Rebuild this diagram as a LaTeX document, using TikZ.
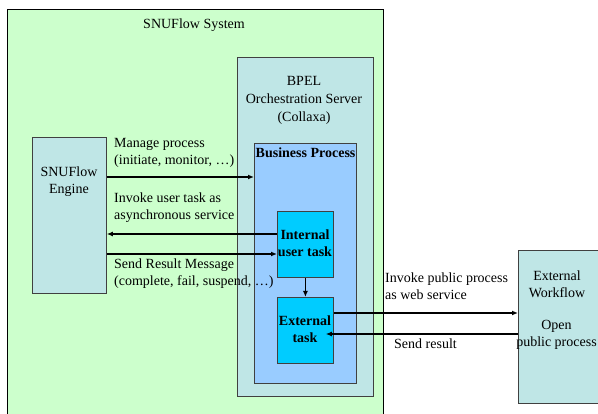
\documentclass[tikz,border=0pt]{standalone}
\usepackage{fontspec}
\setmainfont{Liberation Serif}
\usetikzlibrary{arrows.meta}
\definecolor{sysgreen}{HTML}{CCFFCC}
\definecolor{paleteal}{HTML}{BFE6E6}
\definecolor{bpblue}{HTML}{99CCFF}
\definecolor{taskcyan}{HTML}{00CCFF}
\begin{document}
\begin{tikzpicture}[x=1pt,y=-1pt,
  box/.style={draw=black!75, line width=0.8pt, inner sep=0pt, anchor=north west},
  txt/.style={font=\fontsize{14}{17}\selectfont, inner sep=0pt, align=center},
  lbl/.style={font=\fontsize{14}{17}\selectfont, inner sep=0pt, align=left, anchor=west},
  btxt/.style={font=\bfseries\fontsize{14}{17}\selectfont, inner sep=0pt, align=center},
  arr/.style={line width=1.3pt, -{Latex[length=6pt,width=5pt]}}]
\clip (0,0) rectangle (598,414);
\fill[white] (0,0) rectangle (598,414);
% boxes
\node[box, fill=sysgreen, draw=black, minimum width=376pt, minimum height=430pt] (sys) at (7,9.5) {};
\node[box, fill=paleteal, minimum width=136pt, minimum height=339pt] (bpel) at (237,57) {};
\node[box, fill=bpblue, minimum width=102pt, minimum height=240pt] (bp) at (254,143) {};
\node[box, fill=paleteal, minimum width=74pt, minimum height=156pt] (engine) at (32,137) {};
\node[box, fill=taskcyan, minimum width=56pt, minimum height=66pt] (int) at (277,211) {};
\node[box, fill=taskcyan, minimum width=56pt, minimum height=66pt] (ext) at (277,297) {};
\node[box, fill=paleteal, minimum width=110pt, minimum height=153pt] (wf) at (518,250) {};
% texts
\node[txt] (systitle) at (194,25) {SNUFlow System};
\node[txt, font=\fontsize{14}{18}\selectfont] (bpeltxt) at (304,100) {BPEL\\Orchestration Server\\(Collaxa)};
\node[btxt, anchor=west] (bptitle) at (255.5,153) {Business Process};
\node[txt] (enginetxt) at (69,181.5) {SNUFlow\\Engine};
\node[btxt] (inttxt) at (305,243.5) {Internal\\user task};
\node[btxt] (exttxt) at (305,329) {External\\task};
\node[txt] (wftxt) at (557,284) {External\\Workflow};
\node[txt] (opentxt) at (556.5,335) {Open\\public process};
% labels
\node[lbl] (l1) at (114,153) {Manage process\\(initiate, monitor, …)};
\node[lbl] (l2) at (114,207.5) {Invoke user task as\\asynchronous service};
\node[lbl] (l3) at (114,273.5) {Send Result Message\\(complete, fail, suspend, …)};
\node[lbl] (l4) at (385,286) {Invoke public process\\as web service};
\node[lbl] (l5) at (394,344) {Send result};
% connector levels
\coordinate (m1) at (0,177);
\coordinate (m2) at (0,234);
\coordinate (m3) at (0,254);
\coordinate (m5) at (0,313);
\coordinate (m6) at (0,334);
% connectors
\draw[arr] (engine.east |- m1) -- (bp.west |- m1);
\draw[arr] (int.west |- m2) -- (engine.east |- m2);
\draw[arr] (engine.east |- m3) -- (int.west |- m3);
\draw[arr] (int.south) -- (ext.north);
\draw[arr] (ext.east |- m5) -- (wf.west |- m5);
\draw[arr] (wf.west |- m6) -- ([xshift=-8pt]ext.east |- m6);
\end{tikzpicture}
\end{document}
